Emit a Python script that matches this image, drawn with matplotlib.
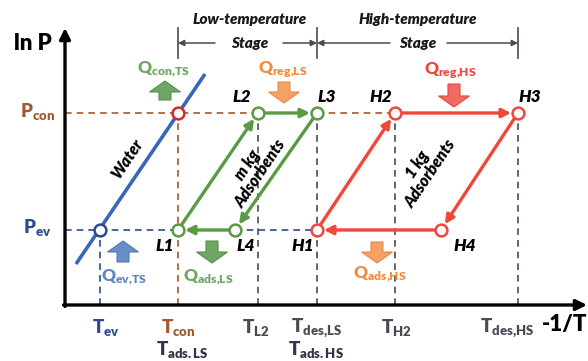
import matplotlib.pyplot as plt
from matplotlib.patches import FancyArrow

# =============================================================================
# Diagram data (x: -1/T, y: ln P, arbitrary units)
# =============================================================================

t_names = ['ev', 'con', 'L2', 'desLS', 'H2', 'desHS']
t_vals = [35, 113, 193, 252, 330, 453]
T = dict(zip(t_names, t_vals))

p_names = ['ev', 'con']
p_vals = [75, 192]
P = dict(zip(p_names, p_vals))

# low-temperature stage (m kg adsorbents) and high-temperature stage (1 kg)
ls_labels = ['L1', 'L2', 'L3', 'L4']
ls_x = [T['con'], T['L2'], T['desLS'], 170]
ls_y = [P['ev'], P['con'], P['con'], P['ev']]

hs_labels = ['H1', 'H2', 'H3', 'H4']
hs_x = [T['desLS'], T['H2'], T['desHS'], 376]
hs_y = [P['ev'], P['con'], P['con'], P['ev']]

# water saturation line end points
water_x = [11, 140]
water_y = [41, 231]

# =============================================================================
# Style
# =============================================================================

plt.rcParams['font.family'] = ['Lato', 'DejaVu Sans']
plt.rcParams['mathtext.fontset'] = 'custom'
plt.rcParams['mathtext.rm'] = 'Lato:weight=bold'
plt.rcParams['mathtext.it'] = 'Lato:style=italic:weight=bold'
plt.rcParams['mathtext.bf'] = 'Lato:weight=heavy'

brown = '#a3582a'
navy = '#2b4a8e'
grey = '#4a4a55'
green = '#5b9a45'
green_q = '#6fa662'
red = '#f1463a'
orange = '#f08a3c'
blue = '#3a66b8'
blue_q = '#5f86c2'

fig = plt.figure(figsize=(5.88, 3.61), dpi=100)
ax = fig.add_axes([0, 0, 1, 1])
ax.set_xlim(-65, 523)
ax.set_ylim(-56, 305)
ax.axis('off')

# axes with arrow heads
ax.annotate('', xy=(0, 277), xytext=(0, -1.5),
            arrowprops=dict(arrowstyle='-|>', color='black', lw=2.4,
                            mutation_scale=16, shrinkA=0, shrinkB=0))
ax.annotate('', xy=(522, 0), xytext=(-1.5, 0),
            arrowprops=dict(arrowstyle='-|>', color='black', lw=2.4,
                            mutation_scale=16, shrinkA=0, shrinkB=0))
ax.text(-32, 262, 'ln P', fontsize=16, fontweight='heavy', ha='center', va='center')
ax.text(500, -19, '-1/T', fontsize=16, fontweight='heavy', ha='center', va='center')

# =============================================================================
# Dashed guide lines
# =============================================================================

dash = dict(lw=1.2, ls=(0, (4, 3)), zorder=1)
ax.plot([0, T['L2']], [P['con'], P['con']], color=brown, **dash)
ax.plot([T['desLS'], T['H2']], [P['con'], P['con']], color=brown, **dash)
ax.plot([0, T['con']], [P['ev'], P['ev']], color=navy, **dash)
ax.plot([ls_x[3], T['desLS']], [P['ev'], P['ev']], color=navy, **dash)

ax.plot([T['ev'], T['ev']], [0, P['ev']], color=navy, **dash)
ax.plot([T['con'], T['con']], [0, P['con']], color=brown, **dash)
for k in ['L2', 'desLS', 'H2', 'desHS']:
    ax.plot([T[k], T[k]], [0, P['con']], color=grey, **dash)

# =============================================================================
# Stage dimension lines
# =============================================================================

dim_y = 262
for k in ['con', 'desLS', 'desHS']:
    ax.plot([T[k], T[k]], [247, 277], color=grey, lw=1.2)

dim = dict(arrowstyle='-|>', color=grey, lw=1.1, mutation_scale=9, shrinkA=0, shrinkB=0)
ax.annotate('', xy=(T['con'], dim_y), xytext=(150, dim_y), arrowprops=dim)
ax.annotate('', xy=(T['desLS'], dim_y), xytext=(218, dim_y), arrowprops=dim)
ax.annotate('', xy=(T['desLS'], dim_y), xytext=(325, dim_y), arrowprops=dim)
ax.annotate('', xy=(T['desHS'], dim_y), xytext=(382, dim_y), arrowprops=dim)

stage = dict(fontsize=11, fontweight='heavy', fontstyle='italic', ha='center', va='center',
             color='#1a1a1a')
ax.text(185, 285, 'Low-temperature', **stage)
ax.text(185, 262, 'Stage', **stage)
ax.text(353, 285, 'High-temperature', **stage)
ax.text(353, 262, 'Stage', **stage)

# =============================================================================
# Water line and cycles
# =============================================================================

ax.plot(water_x, water_y, color=blue, lw=2.6, solid_capstyle='butt', zorder=2)
ax.text(62, 146, 'Water', fontsize=11.5, fontweight='heavy', fontstyle='italic',
        rotation=56, ha='center', va='center')


def draw_cycle(xs, ys, color):
    for i in range(4):
        j = (i + 1) % 4
        ax.annotate('', xy=(xs[j], ys[j]), xytext=(xs[i], ys[i]),
                    arrowprops=dict(arrowstyle='-|>', color=color, lw=2.4,
                                    mutation_scale=13, shrinkA=4, shrinkB=5),
                    zorder=2)
    ax.plot(xs, ys, 'o', ms=8.5, mfc='white', mec=color, mew=1.8, ls='none', zorder=3)


draw_cycle(ls_x, ls_y, green)
draw_cycle(hs_x, hs_y, red)

# saturation points on the water line
ax.plot([T['ev']], [P['ev']], 'o', ms=8.5, mfc='white', mec=navy, mew=1.8, zorder=3)
ax.plot([T['con']], [P['con']], 'o', ms=8.5, mfc='white', mec='#d8262a', mew=1.8, zorder=3)

pt = dict(fontsize=12.5, fontweight='heavy', fontstyle='italic', ha='center', va='center')
ax.text(100, 59, 'L1', **pt)
ax.text(181, 59, 'L4', **pt)
ax.text(238, 59, 'H1', **pt)
ax.text(400, 59, 'H4', **pt)
ax.text(177, 208, 'L2', **pt)
ax.text(262, 208, 'L3', **pt)
ax.text(316, 208, 'H2', **pt)
ax.text(465, 208, 'H3', **pt)

ads = dict(fontsize=11.5, fontweight='heavy', fontstyle='italic', rotation=56,
           ha='center', va='center', linespacing=1.0)
ax.text(189, 136, 'm kg\nAdsorbents', **ads)
ax.text(359, 136, '1 kg\nAdsorbents', **ads)

# =============================================================================
# Heat flows
# =============================================================================


def heat_arrow(x, y0, y1, face, edge):
    ax.add_patch(FancyArrow(x, y0, 0, y1 - y0, width=12, head_width=31, head_length=11,
                            length_includes_head=True, fc=face, ec=edge, lw=0.8, zorder=3))


heat_arrow(100, 205, 224, '#6fa662', '#5a8f4d')
heat_arrow(219, 223, 202, '#f5a065', '#e88a4a')
heat_arrow(389, 221, 198, '#f06a62', '#e04a42')
heat_arrow(58, 43, 64, '#6a8fc6', '#557ab4')
heat_arrow(147, 64, 42, '#6fa662', '#5a8f4d')
heat_arrow(312, 63, 42, '#f5a065', '#e88a4a')

qt = dict(fontsize=12.5, ha='center', va='center')
ax.text(98, 236, r'$\mathbf{Q}_{\mathbf{con{,}TS}}$', color=green_q, **qt)
ax.text(218, 235, r'$\mathbf{Q}_{\mathbf{reg{,}LS}}$', color=orange, **qt)
ax.text(385, 234, r'$\mathbf{Q}_{\mathbf{reg{,}HS}}$', color=red, **qt)
ax.text(59, 28, r'$\mathbf{Q}_{\mathbf{ev{,}TS}}$', color=blue_q, **qt)
ax.text(143, 28, r'$\mathbf{Q}_{\mathbf{ads{,}LS}}$', color=green_q, **qt)
ax.text(315, 31, r'$\mathbf{Q}_{\mathbf{ads{,}HS}}$', color=orange, **qt)

# =============================================================================
# Pressure and temperature labels
# =============================================================================

lab = dict(fontsize=13.5, ha='center', va='center')
ax.text(-27, 194, r'$\mathbf{P}_{\mathbf{con}}$', color=brown, **lab)
ax.text(-28, 77, r'$\mathbf{P}_{\mathbf{ev}}$', color=navy, **lab)

ax.text(41, -23, r'$\mathbf{T}_{\mathbf{ev}}$', color=navy, **lab)
ax.text(113, -23, r'$\mathbf{T}_{\mathbf{con}}$', color=brown, **lab)
ax.text(117, -45, r'$\mathbf{T}_{\mathbf{ads.LS}}$', color='#33334a', **lab)
ax.text(191, -23, r'$\mathbf{T}_{\mathbf{L2}}$', color=grey, **lab)
ax.text(251, -23, r'$\mathbf{T}_{\mathbf{des{,}LS}}$', color=grey, **lab)
ax.text(251, -45, r'$\mathbf{T}_{\mathbf{ads.HS}}$', color='#33334a', **lab)
ax.text(331, -23, r'$\mathbf{T}_{\mathbf{H2}}$', color=grey, **lab)
ax.text(442, -23, r'$\mathbf{T}_{\mathbf{des{,}HS}}$', color=grey, **lab)

fig.savefig('out.png', dpi=100)
